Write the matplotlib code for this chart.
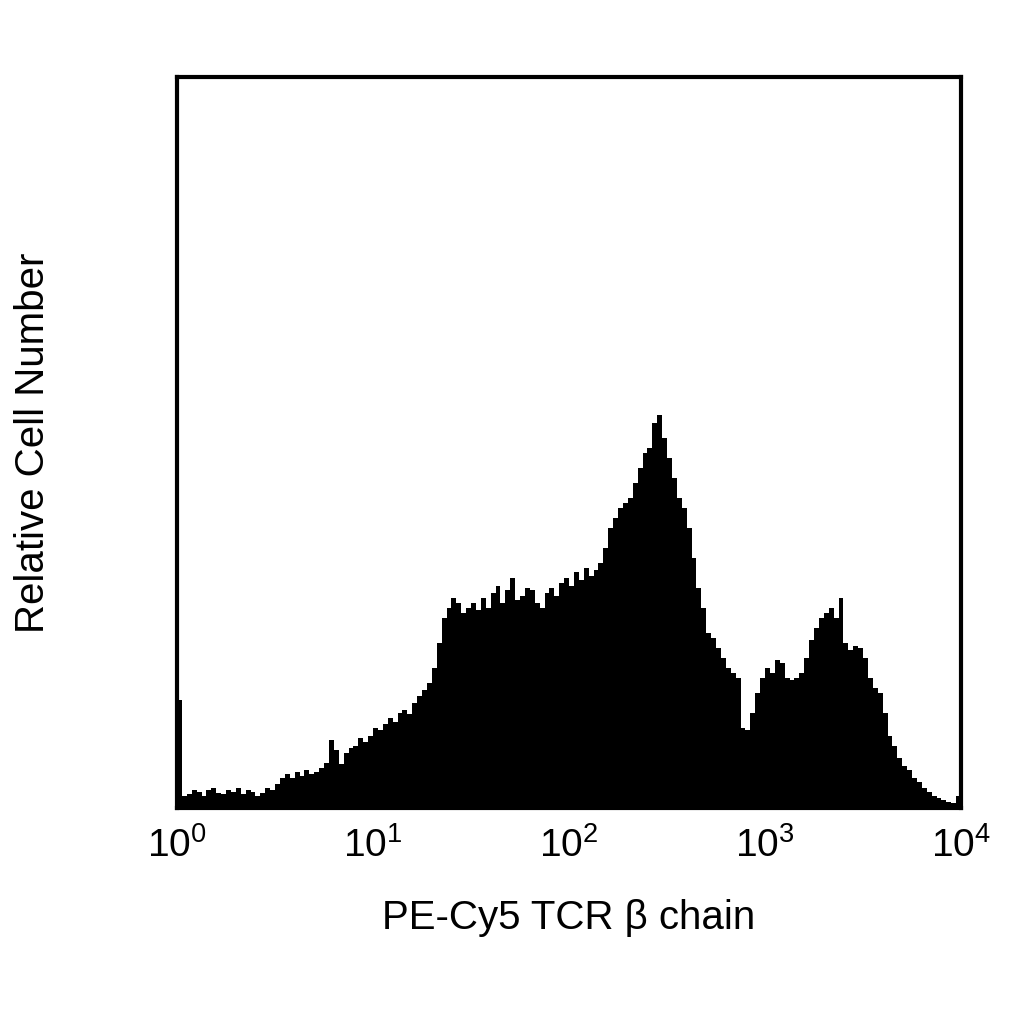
import numpy as np
import matplotlib
matplotlib.use("Agg")
import matplotlib.pyplot as plt

plt.rcParams['font.family'] = ['Liberation Sans', 'DejaVu Sans']
plt.rcParams['mathtext.fontset'] = 'custom'
plt.rcParams['mathtext.rm'] = 'Liberation Sans'

# histogram counts per channel (160 channels over 4 decades, log scale)
counts = [108, 12, 14, 18, 16, 12, 18, 20, 15, 14, 18, 16, 20, 14, 18, 16, 12, 15, 20, 18,
          24, 30, 34, 30, 36, 32, 38, 34, 36, 40, 45, 68, 58, 44, 55, 60, 62, 70, 66, 72,
          80, 78, 84, 90, 86, 95, 98, 94, 105, 112, 118, 125, 140, 165, 190, 200, 210, 205, 195, 200,
          205, 198, 210, 200, 215, 222, 205, 218, 230, 208, 212, 220, 218, 205, 200, 215, 220, 212, 225, 230,
          222, 236, 228, 240, 232, 238, 245, 260, 280, 290, 300, 305, 310, 325, 340, 355, 360, 385, 393, 370,
          350, 330, 310, 300, 280, 250, 220, 200, 175, 170, 160, 150, 140, 135, 130, 80, 78, 95, 115, 130,
          140, 135, 148, 145, 130, 128, 130, 135, 150, 168, 180, 190, 195, 200, 190, 210, 165, 158, 162, 160,
          150, 130, 120, 115, 95, 72, 62, 50, 42, 38, 30, 26, 20, 16, 12, 10, 8, 6, 5, 12]

edges = np.logspace(0, 4, len(counts) + 1)

fig = plt.figure(figsize=(10.24, 10.24), dpi=100)
ax = fig.add_axes([177/1024, 1-808/1024, 784/1024, 731/1024])
ax.stairs(counts, edges, fill=True, color='black')
ax.set_xscale('log')
ax.set_xlim(1, 1e4)
ax.set_ylim(0, 731)
ax.set_yticks([])
ax.set_xticks([1, 10, 100, 1000, 10000])
ax.set_xticklabels([r'$\mathrm{10^0}$', r'$\mathrm{10^1}$', r'$\mathrm{10^2}$', r'$\mathrm{10^3}$', r'$\mathrm{10^4}$'])
ax.minorticks_off()
ax.tick_params(axis='x', length=0, pad=14, labelsize=28)
for s in ax.spines.values():
    s.set_linewidth(3)
ax.set_xlabel('PE-Cy5 TCR β chain', fontsize=29, labelpad=24)
ax.set_ylabel('Relative Cell Number', fontsize=29, labelpad=90)
fig.savefig('out.png', dpi=100)
